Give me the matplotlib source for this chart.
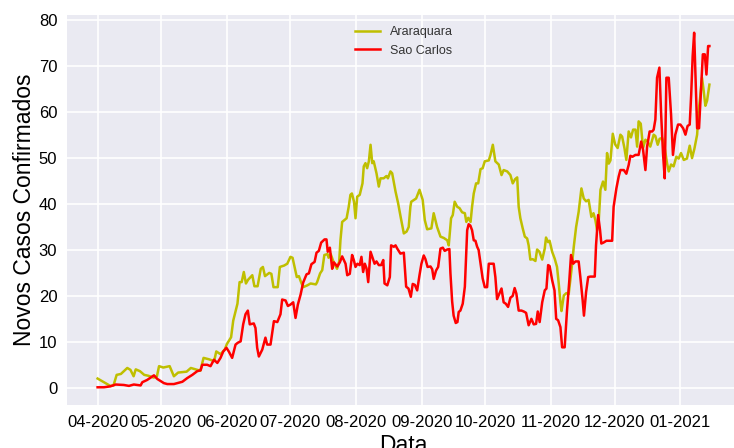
import matplotlib
matplotlib.use("Agg")
import matplotlib.pyplot as plt
import matplotlib.dates as mdates
import pandas as pd

plt.rcParams['font.family'] = ['Liberation Sans', 'DejaVu Sans']

start_date = "2020-04-01"

# Araraquara: days since start, new confirmed cases
ara_days = [0, 3, 6, 7.5, 9, 11, 14, 15.5, 17, 18,
            20, 22, 24, 26.5, 28, 29, 31, 34, 36, 38,
            42, 44, 47, 48.5, 50, 52.5, 55, 56, 58, 60,
            61, 63, 64, 66, 67, 68, 69, 70, 71, 73,
            74, 75.5, 77, 78, 79, 81, 82, 83, 85, 86,
            88, 89.5, 91, 92, 94, 95, 96, 97, 99, 100.5,
            103, 103.6, 105, 106, 107, 108.5, 109, 110, 111, 112,
            113, 114, 114.6, 115.4, 117.5, 118.5, 119.3, 120, 121, 121.7,
            122.5, 123.7, 125, 125.6, 126.4, 127.2, 128, 128.8, 129.6, 130.3,
            131.6, 132.7, 133.5, 135, 136.3, 137, 138.2, 139, 140.6, 141.8,
            143, 144.5, 145.8, 146.8, 147.6, 148, 150.3, 151.9, 153.4, 154.4,
            155.5, 157.5, 158.6, 160.2, 161.8, 163.4, 165, 165.7, 166.8, 167.6,
            168.5, 169.7, 170.8, 172, 173.3, 174, 174.9, 176, 176.7, 177.5,
            178.6, 179.6, 180.7, 181.7, 182.7, 184.6, 185.4, 186.5, 187.7, 189.3,
            190.6, 191.6, 193.3, 194.8, 195.9, 197, 198, 198.7, 199.5, 200.6,
            201.6, 202.7, 203.4, 204.2, 205.3, 206.6, 207.4, 208.5, 209.8, 211,
            211.6, 212.6, 213.3, 214.5, 215.7, 216.8, 217.6, 218.4, 218.9, 220,
            221.2, 222.3, 223.6, 224.7, 225.8, 227, 228.3, 229.4, 230.5, 231.7,
            233, 234, 234.9, 235.7, 236.5, 237.3, 238.5, 239.6, 240.4, 241.2,
            242, 243.1, 244.2, 245.4, 246.7, 247.5, 248.6, 249.5, 250.6, 251.7,
            252.7, 253.8, 254.6, 255.3, 256.3, 257.4, 258.5, 259.6, 260.8, 262.4,
            263.2, 264.3, 265.2, 266.4, 267.5, 268.7, 269.5, 270.6, 271.8, 273.1,
            274.2, 275.3, 276.6, 278.1, 279.4, 280.5, 281.6, 282.9, 283.6, 284.4,
            285.2, 285.9, 286.8, 287.6, 288.7]
ara_vals = [2.0, 1.2, 0.4, 0.5, 2.8, 3.0, 4.3, 3.9, 2.5, 4.0,
            3.6, 2.8, 2.6, 2.2, 2.5, 4.7, 4.4, 4.7, 2.5, 3.3,
            3.5, 4.3, 3.9, 3.7, 6.5, 6.2, 5.8, 7.9, 7.3, 8.3,
            9.5, 11.0, 14.6, 18.3, 23.0, 23.0, 25.2, 22.7, 23.5, 24.5,
            22.1, 22.1, 25.9, 26.3, 24.3, 25.0, 24.8, 21.9, 21.9, 26.3,
            26.6, 27.0, 28.5, 28.3, 24.1, 24.3, 23.0, 21.9, 22.3, 22.7,
            22.5, 23.0, 24.9, 25.6, 28.9, 29.1, 28.3, 29.1, 27.8, 26.7,
            25.9, 27.5, 32.1, 36.1, 36.9, 39.4, 42.0, 42.3, 40.5, 36.9,
            41.6, 42.0, 44.5, 48.2, 48.9, 47.8, 49.3, 52.9, 48.9, 49.3,
            46.7, 43.8, 45.6, 45.6, 46.1, 45.6, 47.1, 46.7, 42.7, 40.2,
            37.2, 33.6, 34.0, 35.0, 39.4, 40.5, 41.2, 43.1, 40.9, 36.5,
            34.5, 34.7, 38.0, 35.0, 32.9, 32.6, 32.1, 31.0, 36.9, 37.6,
            40.5, 39.4, 39.1, 38.2, 38.0, 36.1, 37.0, 36.1, 39.4, 42.3,
            44.5, 44.5, 47.6, 47.8, 49.3, 49.5, 50.7, 52.9, 49.3, 48.6,
            46.3, 47.4, 47.1, 46.3, 44.5, 45.4, 45.8, 39.4, 36.9, 34.7,
            32.9, 32.5, 31.0, 27.9, 28.0, 27.6, 30.1, 29.6, 27.9, 30.3,
            32.7, 31.7, 32.0, 29.6, 28.1, 26.3, 22.7, 18.6, 16.7, 20.1,
            20.6, 20.4, 25.6, 30.7, 35.0, 38.3, 43.4, 41.2, 40.6, 40.9,
            37.2, 38.0, 36.5, 34.3, 36.5, 43.1, 44.9, 43.1, 51.1, 48.8,
            49.5, 55.3, 53.0, 52.2, 55.1, 54.7, 52.2, 49.6, 55.8, 54.5,
            56.2, 56.2, 52.5, 58.0, 57.5, 52.2, 54.0, 53.6, 52.5, 55.1,
            54.8, 52.9, 54.2, 54.4, 52.5, 48.9, 47.1, 48.6, 48.2, 50.3,
            49.9, 51.1, 49.6, 49.9, 52.7, 50.0, 52.0, 55.1, 60.2, 63.5,
            67.5, 65.0, 61.4, 62.5, 66.0]

# Sao Carlos: days since start, new confirmed cases
sc_days = [0, 3, 6, 8.5, 12.4, 14.8, 17.1, 20.3, 21.1, 23.4,
           26.6, 28.2, 31.3, 32.9, 36, 37.6, 40, 42.3, 44.7, 47,
           48.6, 49.4, 51.7, 53.3, 54.9, 56.5, 58, 59.3, 60.8, 61.9,
           63.5, 65.1, 66.2, 67.5, 68.7, 69.8, 70.9, 71.8, 73.7, 74.5,
           75.3, 76.1, 77.7, 79.2, 80, 81.6, 83.2, 84.8, 86.3, 87.1,
           88.7, 89.8, 91, 92.3, 93.4, 94.5, 95.8, 97, 98.6, 99.7,
           100.9, 102.4, 103.3, 104.4, 105.5, 107.1, 108, 108.6, 109.6, 110.7,
           111.5, 113.1, 114.3, 115.4, 116.2, 117, 117.8, 119, 120.1, 120.9,
           121.7, 122.6, 123.7, 124.5, 125.3, 126.1, 126.9, 127.7, 128.8, 129.6,
           130.7, 131.6, 132.7, 133.8, 134.8, 135.4, 136.7, 137.9, 138.5, 139.8,
           140.6, 141.4, 142.9, 144.5, 145.6, 146.7, 147.8, 148.7, 149.7, 150.8,
           151.9, 152.8, 153.9, 154.7, 155.7, 157.1, 157.9, 158.6, 159.7, 160.7,
           161.8, 162.9, 163.8, 165, 166, 166.5, 167.3, 168, 169, 169.8,
           170.4, 171.2, 172.3, 173.3, 173.9, 174.4, 175.1, 175.9, 176.7, 177.5,
           178.3, 179.1, 179.8, 180.7, 181.7, 182.7, 183.8, 184.6, 186.9, 187.7,
           188.5, 189.6, 190.6, 191.6, 192.6, 193.7, 194.8, 195.9, 196.8, 197.6,
           198.7, 200, 201.1, 202.2, 203.4, 204.7, 205.8, 206.9, 207.7, 208.6,
           209.8, 211, 211.8, 212.6, 213.3, 214.5, 215.6, 216.4, 217.3, 218.4,
           219.2, 220.4, 221.5, 222.6, 223.4, 224.4, 225.5, 227, 227.8, 228.9,
           229.5, 230.5, 231.5, 232.5, 234.6, 235.2, 236.2, 237.1, 237.7, 238.7,
           240.1, 242.8, 243.5, 244.8, 245.9, 246.7, 248.3, 249.5, 250.6, 251.4,
           252.4, 253.8, 255.3, 256.5, 257.4, 258.5, 259.3, 260.5, 261.7, 262.4,
           263.2, 264, 265.1, 265.9, 266.8, 267.6, 268.4, 269.5, 270.6, 271.5,
           272.6, 273.9, 275, 276.3, 277.4, 278.4, 279.4, 280.1, 280.8, 281.5,
           282.3, 282.9, 283.8, 284.8, 285.6, 286.5, 287.3, 288.1, 288.7]
sc_vals = [0.1, 0.1, 0.3, 0.7, 0.6, 0.4, 0.7, 0.5, 1.2, 1.7,
           2.7, 1.9, 1.0, 0.8, 0.8, 1.0, 1.3, 2.1, 2.8, 3.6,
           3.8, 5.0, 5.0, 4.7, 6.1, 5.4, 6.5, 7.9, 8.7, 7.9,
           6.5, 9.4, 9.8, 10.1, 13.8, 16.0, 16.8, 13.8, 14.0, 13.0,
           8.7, 6.8, 8.3, 10.9, 9.4, 9.4, 14.5, 14.3, 16.0, 19.2,
           19.0, 17.8, 18.1, 18.6, 15.2, 18.1, 20.3, 22.9, 24.7, 24.9,
           26.9, 27.4, 29.4, 29.8, 31.6, 32.3, 32.3, 29.6, 30.5, 25.9,
           27.3, 26.4, 27.3, 28.6, 27.8, 27.0, 24.5, 24.8, 28.9, 27.8,
           26.3, 27.0, 26.7, 28.5, 25.2, 27.0, 26.0, 23.0, 29.6, 28.5,
           27.0, 27.5, 26.7, 26.7, 27.8, 22.7, 22.3, 24.1, 31.0, 30.7,
           31.0, 30.3, 29.2, 29.4, 22.0, 21.6, 19.8, 22.6, 22.4, 21.2,
           24.5, 27.0, 28.8, 28.0, 26.3, 26.4, 25.8, 23.7, 25.5, 26.3,
           30.3, 30.5, 29.8, 30.1, 30.2, 24.9, 18.8, 15.7, 14.1, 14.3,
           16.5, 16.8, 18.3, 22.0, 28.5, 34.3, 35.6, 35.3, 34.3, 32.1,
           32.0, 30.7, 30.0, 27.0, 23.8, 21.9, 21.9, 27.0, 27.0, 24.1,
           19.3, 20.5, 21.6, 18.6, 18.3, 17.6, 19.6, 20.0, 21.7, 20.5,
           16.8, 16.8, 16.6, 16.3, 13.6, 15.0, 13.8, 13.9, 16.6, 14.3,
           18.6, 21.2, 21.6, 26.7, 26.5, 23.4, 21.2, 15.0, 14.7, 13.2,
           8.8, 8.8, 16.8, 23.4, 28.9, 27.0, 27.5, 27.5, 24.1, 19.0,
           15.7, 20.8, 24.1, 24.2, 24.2, 31.0, 37.6, 34.3, 31.4, 31.6,
           32.0, 32.0, 39.4, 43.4, 46.0, 47.4, 47.4, 46.6, 48.5, 50.5,
           50.3, 50.7, 50.7, 53.6, 51.8, 47.4, 52.5, 55.8, 55.8, 56.2,
           58.4, 67.5, 69.7, 59.8, 51.1, 45.6, 67.5, 67.5, 59.5, 50.7,
           55.1, 57.3, 57.3, 56.5, 55.1, 57.0, 57.3, 63.8, 72.2, 77.3,
           65.6, 56.5, 56.5, 65.6, 72.6, 72.6, 68.2, 74.4, 74.4]

series_labels = ["Araraquara", "Sao Carlos"]
y_ticks = [0, 10, 20, 30, 40, 50, 60, 70, 80]

t0 = pd.Timestamp(start_date)
ara_x = t0 + pd.to_timedelta(ara_days, unit="D")
sc_x = t0 + pd.to_timedelta(sc_days, unit="D")

fig = plt.figure(figsize=(7.34, 4.48), dpi=100)
ax = fig.add_axes([67 / 734, 43 / 448, 673 / 734, 390 / 448])
ax.set_facecolor("#EAEAF2")
for s in ax.spines.values():
    s.set_visible(False)
ax.grid(True, color="white", linewidth=1.2)
ax.set_axisbelow(True)

ax.plot(ara_x, ara_vals, color="#BFBF00", linewidth=1.8, label=series_labels[0])
ax.plot(sc_x, sc_vals, color="#FF0000", linewidth=1.8, label=series_labels[1])

ax.xaxis.set_major_locator(mdates.MonthLocator())
ax.xaxis.set_major_formatter(mdates.DateFormatter("%m-%Y"))
ax.set_yticks(y_ticks)
ax.tick_params(length=0, labelsize=12, pad=7, labelcolor="black")

ax.set_ylabel("Novos Casos Confirmados", fontsize=16.5, labelpad=2)
ax.set_xlabel("Data", fontsize=16.5, labelpad=3)

leg = ax.legend(loc="upper center", frameon=False, fontsize=9)
for t in leg.get_texts():
    t.set_color("#333333")

fig.savefig("out.png", dpi=100)
